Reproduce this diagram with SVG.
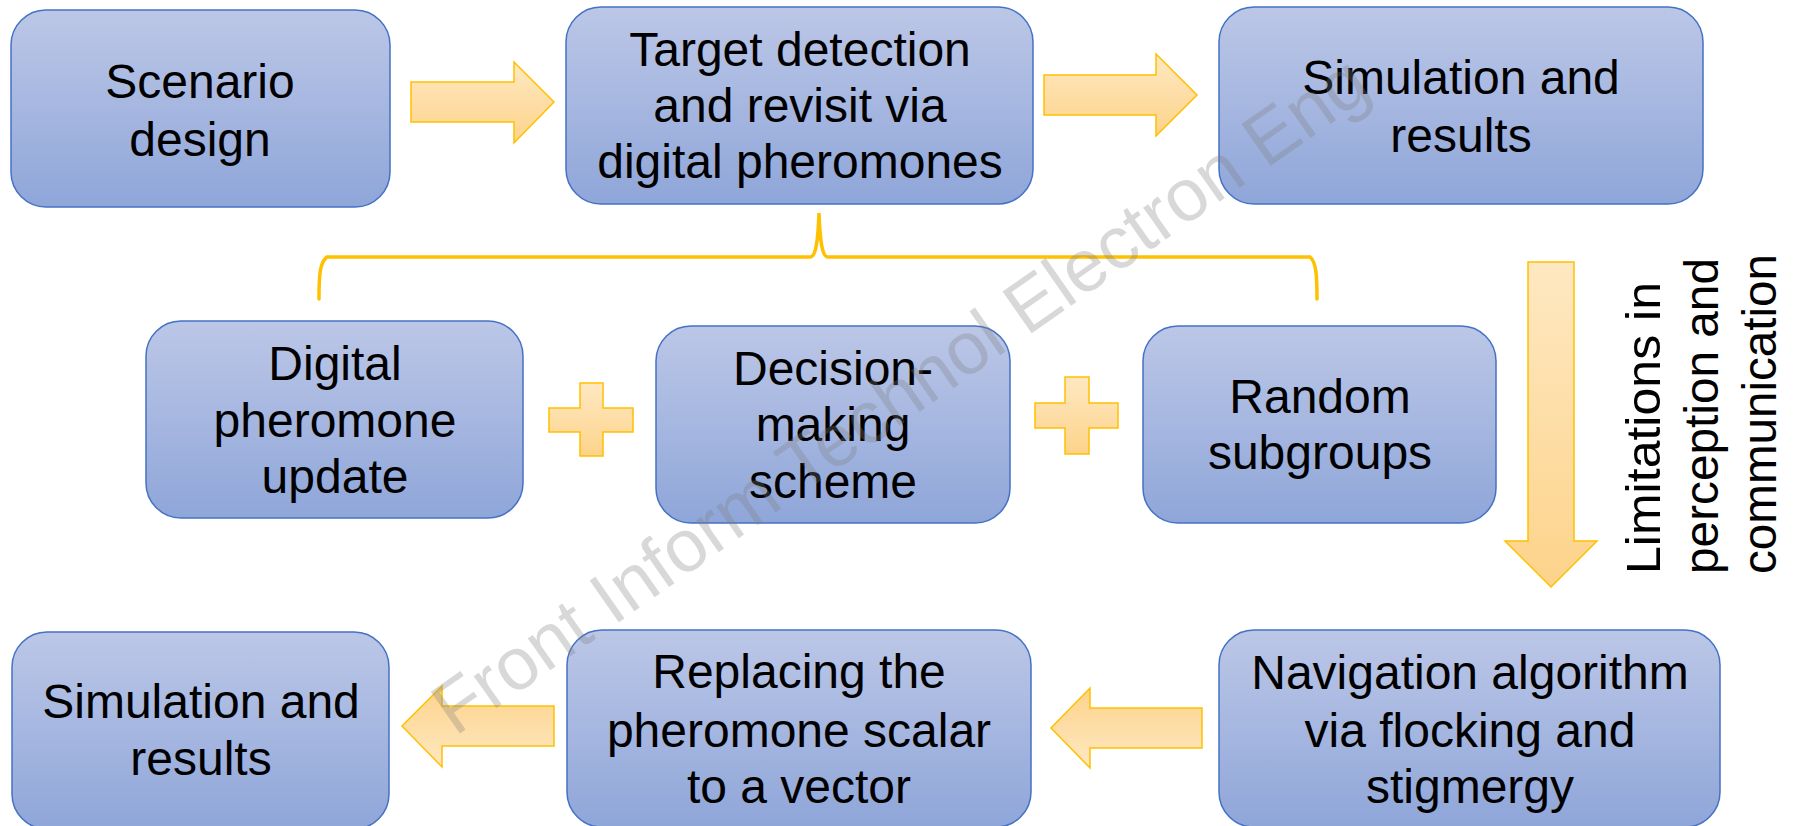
<svg xmlns="http://www.w3.org/2000/svg" width="1793" height="826" viewBox="0 0 1793 826">
  <defs>
    <linearGradient id="boxFill" x1="0" y1="0" x2="0" y2="1">
      <stop offset="0" stop-color="#bcc7e7"/>
      <stop offset="1" stop-color="#8fa6d9"/>
    </linearGradient>
    <linearGradient id="arrowFill" x1="0" y1="0" x2="0" y2="1">
      <stop offset="0" stop-color="#fee8c2"/>
      <stop offset="1" stop-color="#fdd38a"/>
    </linearGradient>
    <linearGradient id="arrowFillRev" x1="0" y1="1" x2="0" y2="0">
      <stop offset="0" stop-color="#fee8c2"/>
      <stop offset="1" stop-color="#fdd38a"/>
    </linearGradient>
  </defs>
  <style>
    .box { fill: url(#boxFill); stroke: #4472c4; stroke-width: 1.5; }
    .lbl { font-family: "Liberation Sans", Arial, sans-serif; font-size: 48px; fill: #000; text-anchor: middle; }
    .side { font-family: "Liberation Sans", Arial, sans-serif; font-size: 48px; fill: #000; text-anchor: start; }
    .arrow { fill: url(#arrowFill); stroke: #ffc000; stroke-width: 1.5; stroke-linejoin: miter; }
    .arrow-rev { fill: url(#arrowFillRev); stroke: #ffc000; stroke-width: 1.5; }
    .brace { fill: none; stroke: #ffc000; stroke-width: 3.5; stroke-linecap: round; }
    .mark { font-family: "Liberation Sans", Arial, sans-serif; font-size: 74px; fill: #7f7f7f; fill-opacity: 0.3; }
  </style>

  <rect width="1793" height="826" fill="#ffffff"/>

  <!-- connectors: block arrows, plus signs and the brace -->
  <g id="connectors">
    <polygon class="arrow" points="411,82 514,82 514,62 554,102 514,143 514,122 411,122"/>
    <polygon class="arrow" points="1044,75 1156,75 1156,54 1197,95 1156,136 1156,115 1044,115"/>
    <polygon class="arrow" points="1528,262 1574,262 1574,541 1597,541 1551,587 1505,541 1528,541"/>
    <polygon class="arrow-rev" points="1202,708 1090,708 1090,688 1051,728 1090,768 1090,748 1202,748"/>
    <polygon class="arrow-rev" points="554,706 442,706 442,686 402,726 442,767 442,746 554,746"/>
    <path class="arrow" d="M580,383 H603 V408 H633 V432 H603 V456 H580 V432 H549 V408 H580 Z"/>
    <path class="arrow" d="M1065,377 H1089 V403 H1118 V428 H1089 V454 H1065 V428 H1035 V403 H1065 Z"/>
    <path class="brace" d="M319,299 C319,274 320,262 327,257 H810 C816,257 818,240 819,213 C820,240 822,257 828,257 H1310 C1316,262 1317,274 1317,299"/>
  </g>

  <g id="scenario-design">
    <rect class="box" x="11" y="10" width="379" height="197" rx="35"/>
    <text class="lbl" x="200" y="98">Scenario</text>
    <text class="lbl" x="200" y="156">design</text>
  </g>

  <g id="target-detection">
    <rect class="box" x="566" y="7" width="467" height="197" rx="35"/>
    <text class="lbl" x="800" y="66">Target detection</text>
    <text class="lbl" x="800" y="122">and revisit via</text>
    <text class="lbl" x="800" y="178">digital pheromones</text>
  </g>

  <g id="simulation-results-1">
    <rect class="box" x="1219" y="7" width="484" height="197" rx="35"/>
    <text class="lbl" x="1461" y="94">Simulation and</text>
    <text class="lbl" x="1461" y="152">results</text>
  </g>

  <g id="pheromone-update">
    <rect class="box" x="146" y="321" width="377" height="197" rx="35"/>
    <text class="lbl" x="335" y="380">Digital</text>
    <text class="lbl" x="335" y="437">pheromone</text>
    <text class="lbl" x="335" y="493">update</text>
  </g>

  <g id="decision-making">
    <rect class="box" x="656" y="326" width="354" height="197" rx="35"/>
    <text class="lbl" x="833" y="385">Decision-</text>
    <text class="lbl" x="833" y="441">making</text>
    <text class="lbl" x="833" y="498">scheme</text>
  </g>

  <g id="random-subgroups">
    <rect class="box" x="1143" y="326" width="353" height="197" rx="35"/>
    <text class="lbl" x="1320" y="413">Random</text>
    <text class="lbl" x="1320" y="469">subgroups</text>
  </g>

  <g id="limitations-label">
    <text class="side" transform="translate(1660,574) rotate(-90)" textLength="292" lengthAdjust="spacingAndGlyphs">Limitations in</text>
    <text class="side" transform="translate(1718,574) rotate(-90)" textLength="316" lengthAdjust="spacingAndGlyphs">perception and</text>
    <text class="side" transform="translate(1776,574) rotate(-90)" textLength="320" lengthAdjust="spacingAndGlyphs">communication</text>
  </g>

  <g id="navigation-algorithm">
    <rect class="box" x="1219" y="630" width="501" height="197" rx="35"/>
    <text class="lbl" x="1470" y="689">Navigation algorithm</text>
    <text class="lbl" x="1470" y="747">via flocking and</text>
    <text class="lbl" x="1470" y="803">stigmergy</text>
  </g>

  <g id="pheromone-vector">
    <rect class="box" x="567" y="630" width="464" height="197" rx="35"/>
    <text class="lbl" x="799" y="688">Replacing the</text>
    <text class="lbl" x="799" y="747">pheromone scalar</text>
    <text class="lbl" x="799" y="803">to a vector</text>
  </g>

  <g id="simulation-results-2">
    <rect class="box" x="12" y="632" width="377" height="197" rx="35"/>
    <text class="lbl" x="201" y="718">Simulation and</text>
    <text class="lbl" x="201" y="775">results</text>
  </g>

  <!-- journal watermark across the page -->
  <text class="mark" transform="translate(455,737) rotate(-35)">Front Inform Technol Electron Eng</text>
</svg>
